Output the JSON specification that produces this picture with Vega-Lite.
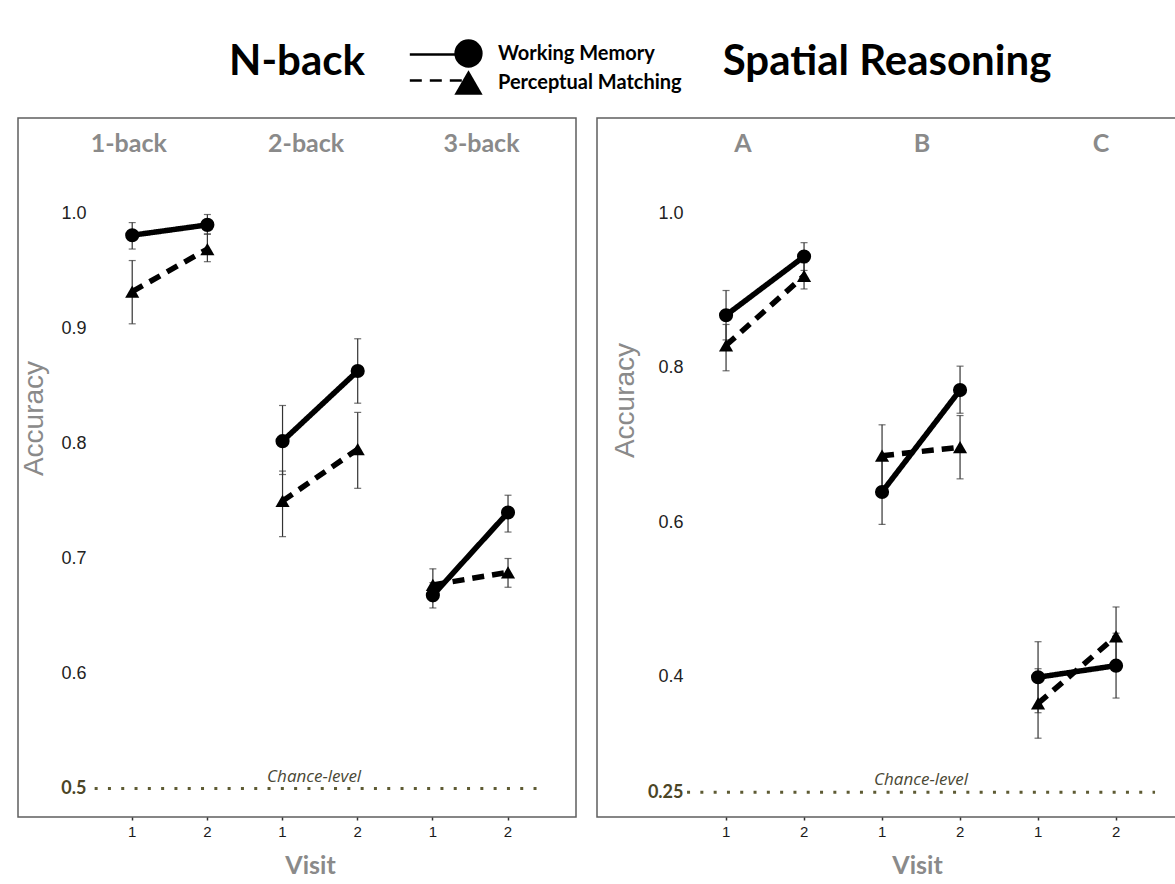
{
  "$schema": "https://vega.github.io/schema/vega-lite/v6.json",
  "padding": {"left": 17, "top": 39, "right": 0, "bottom": 0},
  "background": "white",
  "config": {
    "view": {"stroke": "#5f5f5f", "strokeWidth": 1.5},
    "font": "Liberation Sans",
    "title": {"font": "Lato", "fontWeight": "bold", "fontSize": 42, "color": "black", "anchor": "middle", "baseline": "alphabetic", "offset": 34}
  },
  "datasets": {
    "nback": [
      {"level": "1-back", "visit": 1, "cell": "1-back 1", "task": "Working Memory", "mean": 0.981, "lo": 0.969, "hi": 0.992},
      {"level": "1-back", "visit": 2, "cell": "1-back 2", "task": "Working Memory", "mean": 0.990, "lo": 0.982, "hi": 0.999},
      {"level": "1-back", "visit": 1, "cell": "1-back 1", "task": "Perceptual Matching", "mean": 0.932, "lo": 0.904, "hi": 0.959},
      {"level": "1-back", "visit": 2, "cell": "1-back 2", "task": "Perceptual Matching", "mean": 0.969, "lo": 0.958, "hi": 0.982},
      {"level": "2-back", "visit": 1, "cell": "2-back 1", "task": "Working Memory", "mean": 0.802, "lo": 0.773, "hi": 0.833},
      {"level": "2-back", "visit": 2, "cell": "2-back 2", "task": "Working Memory", "mean": 0.863, "lo": 0.835, "hi": 0.891},
      {"level": "2-back", "visit": 1, "cell": "2-back 1", "task": "Perceptual Matching", "mean": 0.750, "lo": 0.719, "hi": 0.776},
      {"level": "2-back", "visit": 2, "cell": "2-back 2", "task": "Perceptual Matching", "mean": 0.795, "lo": 0.761, "hi": 0.827},
      {"level": "3-back", "visit": 1, "cell": "3-back 1", "task": "Working Memory", "mean": 0.668, "lo": 0.657, "hi": 0.679},
      {"level": "3-back", "visit": 2, "cell": "3-back 2", "task": "Working Memory", "mean": 0.740, "lo": 0.723, "hi": 0.755},
      {"level": "3-back", "visit": 1, "cell": "3-back 1", "task": "Perceptual Matching", "mean": 0.677, "lo": 0.663, "hi": 0.691},
      {"level": "3-back", "visit": 2, "cell": "3-back 2", "task": "Perceptual Matching", "mean": 0.688, "lo": 0.675, "hi": 0.700}
    ],
    "spatial": [
      {"level": "A", "visit": 1, "cell": "A 1", "task": "Working Memory", "mean": 0.868, "lo": 0.836, "hi": 0.900},
      {"level": "A", "visit": 2, "cell": "A 2", "task": "Working Memory", "mean": 0.944, "lo": 0.926, "hi": 0.962},
      {"level": "A", "visit": 1, "cell": "A 1", "task": "Perceptual Matching", "mean": 0.829, "lo": 0.796, "hi": 0.856},
      {"level": "A", "visit": 2, "cell": "A 2", "task": "Perceptual Matching", "mean": 0.919, "lo": 0.902, "hi": 0.936},
      {"level": "B", "visit": 1, "cell": "B 1", "task": "Working Memory", "mean": 0.639, "lo": 0.597, "hi": 0.681},
      {"level": "B", "visit": 2, "cell": "B 2", "task": "Working Memory", "mean": 0.771, "lo": 0.741, "hi": 0.802},
      {"level": "B", "visit": 1, "cell": "B 1", "task": "Perceptual Matching", "mean": 0.686, "lo": 0.646, "hi": 0.726},
      {"level": "B", "visit": 2, "cell": "B 2", "task": "Perceptual Matching", "mean": 0.697, "lo": 0.656, "hi": 0.738},
      {"level": "C", "visit": 1, "cell": "C 1", "task": "Working Memory", "mean": 0.399, "lo": 0.353, "hi": 0.445},
      {"level": "C", "visit": 2, "cell": "C 2", "task": "Working Memory", "mean": 0.414, "lo": 0.372, "hi": 0.456},
      {"level": "C", "visit": 1, "cell": "C 1", "task": "Perceptual Matching", "mean": 0.365, "lo": 0.320, "hi": 0.410},
      {"level": "C", "visit": 2, "cell": "C 2", "task": "Perceptual Matching", "mean": 0.452, "lo": 0.414, "hi": 0.490}
    ],
    "chance_nback": [{"level": "2-back", "chance": 0.5, "label": "Chance-level"}],
    "chance_spatial": [{"level": "B", "chance": 0.25, "label": "Chance-level"}]
  },
  "hconcat": [
    {
      "width": 558,
      "height": 699,
      "title": {"text": "N-back"},
      "layer": [
        {
          "data": {"name": "chance_nback"},
          "layer": [
            {
              "mark": {"type": "rule", "color": "#5e5b33", "strokeWidth": 3, "strokeDash": [3, 10.3]},
              "encoding": {
                "x": {"datum": "1-back", "type": "nominal", "bandPosition": 0,
                  "scale": {"type": "band", "domain": ["1-back", "2-back", "3-back"], "paddingInner": 0, "paddingOuter": 0.356, "align": 0.716},
                  "axis": {"orient": "top", "title": null, "ticks": false, "domain": false, "labelAngle": 0, "labelPadding": -38, "labelFont": "Lato", "labelFontWeight": "bold", "labelFontSize": 25, "labelColor": "#8a8a8a",
                    "labelOffset": {"condition": [{"test": "datum.value === '1-back'", "value": -41}, {"test": "datum.value === '2-back'", "value": -14}], "value": 11}}},
                "x2": {"datum": "3-back", "bandPosition": 1},
                "y": {"field": "chance", "type": "quantitative", "scale": {"domain": [0.4753, 1.0829], "nice": false, "zero": false}}
              }
            },
            {
              "mark": {"type": "text", "font": "Open Sans", "fontStyle": "italic", "fontSize": 17, "color": "#4a4835", "baseline": "alphabetic", "dy": -7, "dx": -6},
              "encoding": {
                "x": {"field": "level", "type": "nominal"},
                "y": {"field": "chance", "type": "quantitative"},
                "text": {"field": "label"}
              }
            }
          ]
        },
        {
          "data": {"name": "nback"},
          "layer": [
            {
              "mark": {"type": "rule", "color": "#333333", "strokeWidth": 1.2},
              "encoding": {
                "x": {"field": "cell", "type": "nominal",
                  "scale": {"type": "band", "domain": ["1-back 1", "1-back 2", "2-back 1", "2-back 2", "3-back 1", "3-back 2"], "paddingInner": 0, "paddingOuter": 0.712, "align": 0.716},
                  "axis": {"orient": "bottom", "title": "Visit", "labelExpr": "slice(datum.label, -1)", "labelAngle": 0, "domain": false, "ticks": true, "tickSize": 3, "tickColor": "#333333", "tickWidth": 1.5, "labelPadding": 4, "labelFontSize": 15, "labelColor": "#1a1a1a", "titleFont": "Lato", "titleFontWeight": "bold", "titleFontSize": 25, "titleColor": "#8a8a8a", "titlePadding": 14, "titleX": 292}},
                "y": {"field": "lo", "type": "quantitative", "scale": {"domain": [0.4753, 1.0829], "nice": false, "zero": false},
                  "axis": {"values": [0.5, 0.6, 0.7, 0.8, 0.9, 1.0], "format": ".1f", "grid": false, "domain": false, "ticks": false, "tickSize": 0, "labelPadding": -68, "labelFontSize": 18,
                    "labelColor": {"condition": {"test": "datum.value === 0.5", "value": "#4b4526"}, "value": "#222222"},
                    "labelFontWeight": {"condition": {"test": "datum.value === 0.5", "value": "bold"}, "value": "normal"},
                    "labelFont": {"condition": {"test": "datum.value === 0.5", "value": "Lato"}, "value": "Liberation Sans"},
                    "title": "Accuracy", "titleFont": "Liberation Sans", "titleFontWeight": "normal", "titleFontSize": 28, "titleColor": "#8a8a8a", "titleAngle": -90, "titleX": 16, "titleY": 300, "titleBaseline": "middle", "titleAlign": "center"}},
                "y2": {"field": "hi"}
              }
            },
            {
              "mark": {"type": "tick", "color": "#333333", "thickness": 1.2, "size": 7, "orient": "horizontal"},
              "encoding": {"x": {"field": "cell", "type": "nominal"}, "y": {"field": "lo", "type": "quantitative"}}
            },
            {
              "mark": {"type": "tick", "color": "#333333", "thickness": 1.2, "size": 7, "orient": "horizontal"},
              "encoding": {"x": {"field": "cell", "type": "nominal"}, "y": {"field": "hi", "type": "quantitative"}}
            },
            {
              "mark": {"type": "line", "color": "black", "strokeWidth": 5.5},
              "encoding": {
                "x": {"field": "cell", "type": "nominal"},
                "y": {"field": "mean", "type": "quantitative"},
                "detail": {"field": "level"},
                "strokeDash": {"field": "task", "type": "nominal", "sort": "descending", "scale": {"range": [[1, 0], [12, 8]]},
                  "legend": {"orient": "none", "legendX": 406, "legendY": -79, "title": null, "direction": "vertical", "symbolType": "M-2.1,0L2.1,0", "symbolSize": 800, "symbolStrokeWidth": 2.5, "symbolStrokeColor": "black", "symbolFillColor": "transparent", "labelExpr": "''", "labelFontSize": 20, "rowPadding": -5}}
              }
            },
            {
              "mark": {"type": "point", "filled": true, "color": "black", "opacity": 1, "size": 200},
              "encoding": {
                "x": {"field": "cell", "type": "nominal"},
                "y": {"field": "mean", "type": "quantitative"},
                "shape": {"field": "task", "type": "nominal", "scale": {"domain": ["Working Memory", "Perceptual Matching"], "range": ["circle", "triangle-up"]},
                  "legend": {"orient": "none", "legendX": 436, "legendY": -79, "title": null, "direction": "vertical", "symbolSize": 800, "symbolFillColor": "black", "symbolStrokeWidth": 0,
                    "labelFont": "Lato", "labelFontWeight": "bold", "labelFontSize": 20, "labelColor": "black", "labelOffset": 15, "labelLimit": 400, "rowPadding": -5}}
              }
            }
          ]
        }
      ],
      "resolve": {"scale": {"x": "independent"}, "axis": {"x": "independent"}}
    },
    {
      "width": 580,
      "height": 699,
      "title": {"text": "Spatial Reasoning"},
      "layer": [
        {
          "data": {"name": "chance_spatial"},
          "layer": [
            {
              "mark": {"type": "rule", "color": "#5e5b33", "strokeWidth": 3, "strokeDash": [3, 10.3]},
              "encoding": {
                "x": {"datum": "A", "type": "nominal", "bandPosition": 0,
                  "scale": {"type": "band", "domain": ["A", "B", "C"], "paddingInner": 0, "paddingOuter": 0.359, "align": 0.804},
                  "axis": {"orient": "top", "title": null, "ticks": false, "domain": false, "labelAngle": 0, "labelPadding": -38, "labelFont": "Lato", "labelFontWeight": "bold", "labelFontSize": 25, "labelColor": "#8a8a8a",
                    "labelOffset": {"condition": [{"test": "datum.value === 'A'", "value": -22}, {"test": "datum.value === 'B'", "value": 1}], "value": 24}}},
                "x2": {"datum": "C", "bandPosition": 1},
                "y": {"field": "chance", "type": "quantitative", "scale": {"domain": [0.2179, 1.1235], "nice": false, "zero": false}}
              }
            },
            {
              "mark": {"type": "text", "font": "Open Sans", "fontStyle": "italic", "fontSize": 17, "color": "#4a4835", "baseline": "alphabetic", "dy": -7},
              "encoding": {
                "x": {"field": "level", "type": "nominal"},
                "y": {"field": "chance", "type": "quantitative"},
                "text": {"field": "label"}
              }
            }
          ]
        },
        {
          "data": {"name": "spatial"},
          "layer": [
            {
              "mark": {"type": "rule", "color": "#333333", "strokeWidth": 1.2},
              "encoding": {
                "x": {"field": "cell", "type": "nominal",
                  "scale": {"type": "band", "domain": ["A 1", "A 2", "B 1", "B 2", "C 1", "C 2"], "paddingInner": 0, "paddingOuter": 0.718, "align": 0.804},
                  "axis": {"orient": "bottom", "title": "Visit", "labelExpr": "slice(datum.label, -1)", "labelAngle": 0, "domain": false, "ticks": true, "tickSize": 3, "tickColor": "#333333", "tickWidth": 1.5, "labelPadding": 4, "labelFontSize": 15, "labelColor": "#1a1a1a", "titleFont": "Lato", "titleFontWeight": "bold", "titleFontSize": 25, "titleColor": "#8a8a8a", "titlePadding": 14, "titleX": 320}},
                "y": {"field": "lo", "type": "quantitative", "scale": {"domain": [0.2179, 1.1235], "nice": false, "zero": false},
                  "axis": {"values": [0.25, 0.4, 0.6, 0.8, 1.0], "labelExpr": "datum.value === 0.25 ? '0.25' : format(datum.value, '.1f')", "grid": false, "domain": false, "ticks": false, "tickSize": 0, "labelPadding": -86, "labelFontSize": 18,
                    "labelColor": {"condition": {"test": "datum.value === 0.25", "value": "#4b4526"}, "value": "#222222"},
                    "labelFontWeight": {"condition": {"test": "datum.value === 0.25", "value": "bold"}, "value": "normal"},
                    "labelFont": {"condition": {"test": "datum.value === 0.25", "value": "Lato"}, "value": "Liberation Sans"},
                    "title": "Accuracy", "titleFont": "Liberation Sans", "titleFontWeight": "normal", "titleFontSize": 28, "titleColor": "#8a8a8a", "titleAngle": -90, "titleX": 28, "titleY": 282, "titleBaseline": "middle", "titleAlign": "center"}},
                "y2": {"field": "hi"}
              }
            },
            {
              "mark": {"type": "tick", "color": "#333333", "thickness": 1.2, "size": 7, "orient": "horizontal"},
              "encoding": {"x": {"field": "cell", "type": "nominal"}, "y": {"field": "lo", "type": "quantitative"}}
            },
            {
              "mark": {"type": "tick", "color": "#333333", "thickness": 1.2, "size": 7, "orient": "horizontal"},
              "encoding": {"x": {"field": "cell", "type": "nominal"}, "y": {"field": "hi", "type": "quantitative"}}
            },
            {
              "mark": {"type": "line", "color": "black", "strokeWidth": 5.5},
              "encoding": {
                "x": {"field": "cell", "type": "nominal"},
                "y": {"field": "mean", "type": "quantitative"},
                "detail": {"field": "level"},
                "strokeDash": {"field": "task", "type": "nominal", "sort": "descending", "scale": {"range": [[1, 0], [12, 8]]}}
              }
            },
            {
              "mark": {"type": "point", "filled": true, "color": "black", "opacity": 1, "size": 200},
              "encoding": {
                "x": {"field": "cell", "type": "nominal"},
                "y": {"field": "mean", "type": "quantitative"},
                "shape": {"field": "task", "type": "nominal", "scale": {"domain": ["Working Memory", "Perceptual Matching"], "range": ["circle", "triangle-up"]}}
              }
            }
          ]
        }
      ],
      "resolve": {"scale": {"x": "independent"}, "axis": {"x": "independent"}}
    }
  ],
  "spacing": 19,
  "resolve": {"scale": {"x": "independent", "y": "independent", "shape": "shared", "strokeDash": "shared"}, "legend": {"shape": "shared", "strokeDash": "shared"}}
}
